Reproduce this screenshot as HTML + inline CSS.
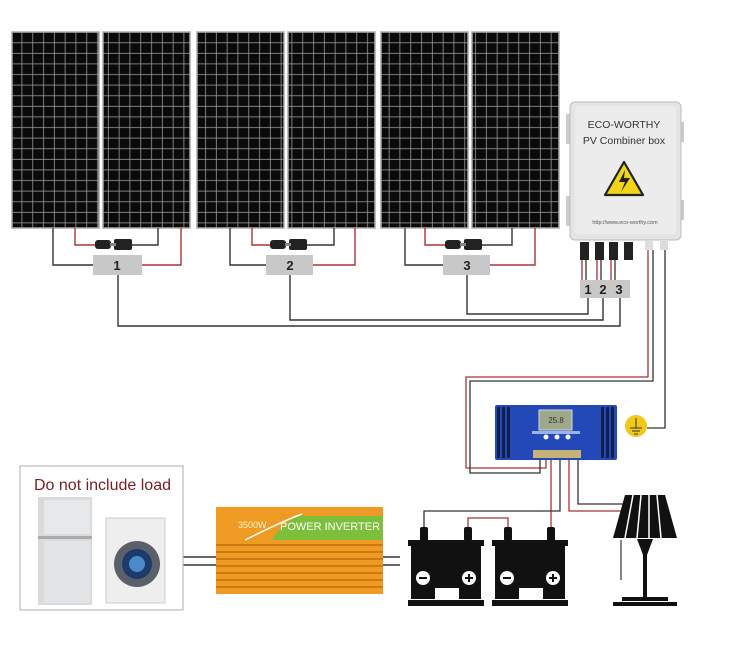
<!DOCTYPE html>
<html><head><meta charset="utf-8"><style>html,body{margin:0;padding:0;background:#fff}svg{display:block}</style></head><body>
<svg width="736" height="647" viewBox="0 0 736 647" xmlns="http://www.w3.org/2000/svg" font-family="Liberation Sans, sans-serif">
<defs>
<pattern id="cells" x="0" y="0" width="10.8" height="10.6" patternUnits="userSpaceOnUse">
<rect width="10.8" height="10.6" fill="#999"/><rect x="0.7" y="0.7" width="10" height="9.8" fill="#0a0a0a"/>
</pattern>
</defs>
<rect width="736" height="647" fill="#fff"/>
<g stroke="#aaa" stroke-width="1.5">
<rect x="12" y="32" width="87" height="196" fill="url(#cells)"/>
<rect x="103" y="32" width="87" height="196" fill="url(#cells)"/>
<rect x="197" y="32" width="87" height="196" fill="url(#cells)"/>
<rect x="288" y="32" width="87" height="196" fill="url(#cells)"/>
<rect x="381" y="32" width="87" height="196" fill="url(#cells)"/>
<rect x="472" y="32" width="87" height="196" fill="url(#cells)"/>
</g>
<g fill="none" stroke-width="1.4">
<g stroke="#333">
<path d="M53 228V265H93"/><path d="M158 228V245H130"/>
<path d="M230 228V265H266"/><path d="M334 228V245H305"/>
<path d="M405 228V265H443"/><path d="M512 228V245H480"/>
<path d="M118 275V326H620V298"/><path d="M290 275V320H603V298"/><path d="M467 275V314H588V298"/>
</g>
<g stroke="#a33">
<path d="M181 228V265H142"/><path d="M75 228V245H95"/>
<path d="M355 228V265H313"/><path d="M252 228V245H270"/>
<path d="M535 228V265H490"/><path d="M425 228V245H445"/>
</g>
</g>
<g fill="#222">
<rect x="95" y="240" width="16" height="9" rx="3"/><rect x="114" y="239" width="18" height="11" rx="2"/><rect x="110" y="243" width="6" height="3" fill="#888"/>
<rect x="270" y="240" width="16" height="9" rx="3"/><rect x="289" y="239" width="18" height="11" rx="2"/><rect x="285" y="243" width="6" height="3" fill="#888"/>
<rect x="445" y="240" width="16" height="9" rx="3"/><rect x="464" y="239" width="18" height="11" rx="2"/><rect x="460" y="243" width="6" height="3" fill="#888"/>
</g>
<g fill="#c8c8c8" font-weight="bold" font-size="13" text-anchor="middle">
<rect x="93" y="255" width="49" height="20"/><rect x="266" y="255" width="47" height="20"/><rect x="443" y="255" width="47" height="20"/>
<rect x="580" y="280" width="50" height="18"/>
<g fill="#222"><text x="117" y="270">1</text><text x="290" y="270">2</text><text x="467" y="270">3</text>
<text x="588" y="294">1</text><text x="603" y="294">2</text><text x="619" y="294">3</text></g>
</g>
<rect x="566" y="114" width="6" height="30" fill="#ccc"/><rect x="566" y="196" width="6" height="30" fill="#ccc"/>
<rect x="678" y="122" width="6" height="20" fill="#ccc"/><rect x="678" y="200" width="6" height="20" fill="#ccc"/>
<rect x="570" y="102" width="111" height="138" rx="5" fill="#e4e4e4" stroke="#bbb"/>
<rect x="575" y="106" width="101" height="128" rx="3" fill="#ececec"/>
<text x="624" y="128" font-size="10.5" text-anchor="middle" fill="#333">ECO-WORTHY</text>
<text x="624" y="144" font-size="10.5" text-anchor="middle" fill="#333">PV Combiner box</text>
<path d="M624 162L643 195H605Z" fill="#f1d419" stroke="#222" stroke-width="2.2" stroke-linejoin="round"/>
<path d="M625 170L619 182H625L621 192L630 178H624Z" fill="#222"/>
<text x="625" y="224" font-size="5.5" text-anchor="middle" fill="#555">http://www.eco-worthy.com</text>
<g fill="#222"><rect x="580" y="242" width="9" height="18"/><rect x="595" y="242" width="9" height="18"/><rect x="609" y="242" width="9" height="18"/><rect x="624" y="242" width="9" height="18"/></g>
<rect x="645" y="240" width="8" height="10" fill="#ddd"/><rect x="660" y="240" width="8" height="10" fill="#ddd"/>
<g fill="none" stroke-width="1.3">
<path d="M582 260V280M597 260V280M611 260V280" stroke="#a33"/>
<path d="M586 260V280M601 260V280M615 260V280" stroke="#333"/>
<path d="M648 250V377H466V468H546V455" stroke="#a33"/>
<path d="M653 250V381H470V473H540V455" stroke="#333"/>
<path d="M665 250V428H647" stroke="#333"/>
<path d="M551 458V530" stroke="#a33"/>
<path d="M560 458V511H424V527" stroke="#333"/>
<path d="M468 527V518H508V527" stroke="#a33"/>
<path d="M569 458V511H628" stroke="#a33"/>
<path d="M578 458V504H630" stroke="#333"/>
<path d="M183 557H216M183 565H216M383 557H400M383 565H400" stroke="#333" stroke-width="1.6"/>
</g>
<circle cx="636" cy="426" r="11" fill="#f2c81a"/>
<path d="M636 418V428M630 428H642M632 431H640M634 434H638" stroke="#333" stroke-width="1" fill="none"/>
<rect x="495" y="405" width="122" height="55" rx="2" fill="#2349b8"/>
<g fill="#10204a"><rect x="497" y="407" width="3" height="51"/><rect x="502" y="407" width="3" height="51"/><rect x="507" y="407" width="3" height="51"/><rect x="601" y="407" width="3" height="51"/><rect x="606" y="407" width="3" height="51"/><rect x="611" y="407" width="3" height="51"/></g>
<rect x="539" y="410" width="33" height="20" fill="#9fa88a" stroke="#cfd7e6"/>
<text x="556" y="423" font-size="8" text-anchor="middle" fill="#333">25.8</text>
<rect x="532" y="431" width="48" height="3" fill="#9bb3ea"/>
<circle cx="546" cy="437" r="2.5" fill="#fff"/><circle cx="557" cy="437" r="2.5" fill="#fff"/><circle cx="568" cy="437" r="2.5" fill="#fff"/>
<rect x="533" y="450" width="48" height="8" fill="#c9b27a"/>
<g fill="#111">
<rect x="420" y="527" width="8" height="14" rx="2"/><rect x="464" y="527" width="8" height="14" rx="2"/>
<rect x="504" y="527" width="8" height="14" rx="2"/><rect x="547" y="527" width="8" height="14" rx="2"/>
<rect x="408" y="540" width="76" height="6"/><rect x="411" y="546" width="70" height="53"/><rect x="408" y="600" width="76" height="6"/>
<rect x="492" y="540" width="76" height="6"/><rect x="495" y="546" width="70" height="53"/><rect x="492" y="600" width="76" height="6"/>
</g>
<g fill="#fff">
<rect x="435" y="588" width="24" height="12"/><rect x="519" y="588" width="24" height="12"/>
<circle cx="423" cy="578" r="7"/><circle cx="469" cy="578" r="7"/><circle cx="507" cy="578" r="7"/><circle cx="553" cy="578" r="7"/>
</g>
<g stroke="#111" stroke-width="2"><path d="M419 578H427M465 578H473M469 574V582M503 578H511M549 578H557M553 574V582"/></g>
<path d="M625 495H665L677 538H613Z" fill="#111"/>
<g stroke="#fff" stroke-width="1.5"><path d="M633 495L625 538M641 495L637 538M649 495L649 538M657 495L661 538"/></g>
<path d="M637 539H653L647 555V598H643V555Z" fill="#111"/>
<path d="M621 540V580" stroke="#333" stroke-width="1.2"/>
<rect x="622" y="597" width="46" height="4" fill="#111"/><rect x="613" y="602" width="64" height="4" fill="#111"/>
<rect x="216" y="507" width="167" height="87" fill="#ef9a22"/>
<g stroke="#c46f10" stroke-width="1.4"><path d="M216 545H383M216 552H383M216 559H383M216 566H383M216 573H383M216 580H383M216 587H383"/></g>
<path d="M275 535Q290 518 300 516H383V540H272Z" fill="#7cbf3a"/>
<path d="M245 540Q285 520 302 514" stroke="#fff" stroke-width="1.5" fill="none"/>
<text x="330" y="530" font-size="11" text-anchor="middle" fill="#fff">POWER INVERTER</text>
<text x="238" y="528" font-size="9" fill="#fff8d0">3500W</text>
<rect x="20" y="466" width="163" height="144" fill="#fff" stroke="#bbb" stroke-width="1.2"/>
<text x="34" y="490" font-size="16" fill="#7a1d22">Do not include load</text>
<rect x="38" y="497" width="54" height="108" fill="#d8dadc"/>
<rect x="38" y="536" width="54" height="3" fill="#aaa"/>
<rect x="44" y="500" width="46" height="34" fill="#e6e8ea"/><rect x="44" y="541" width="46" height="62" fill="#e2e4e6"/>
<rect x="106" y="518" width="59" height="85" fill="#eee" stroke="#ccc"/>
<circle cx="137" cy="564" r="23" fill="#5a5f6a"/><circle cx="137" cy="564" r="15" fill="#1d3b6a"/><circle cx="137" cy="564" r="8" fill="#4a8ac8"/>
</svg>
</body></html>
